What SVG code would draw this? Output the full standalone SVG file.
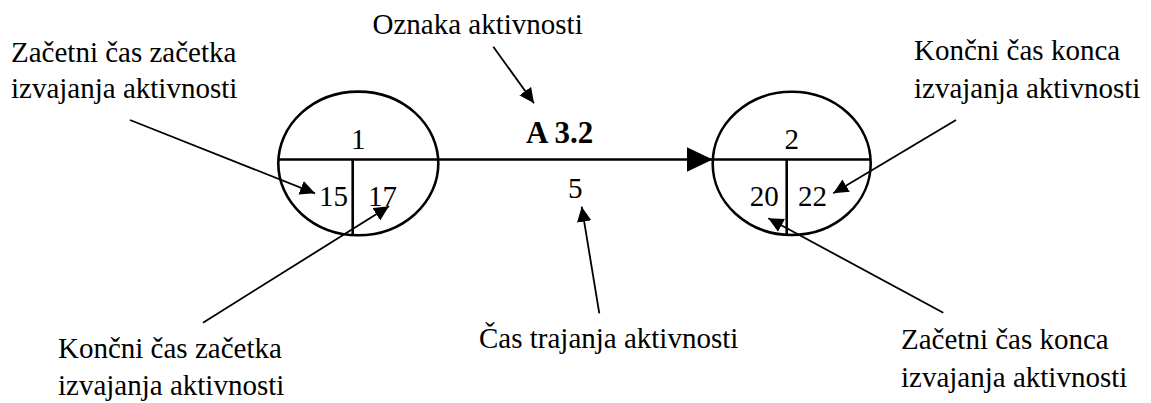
<svg xmlns="http://www.w3.org/2000/svg" width="1151" height="403" viewBox="0 0 1151 403">
  <style>
    text { font-family: "Liberation Serif", "Times New Roman", serif; font-size: 29px; fill: #000; }
    .bold { font-weight: bold; font-size: 31px; }
    .mid { text-anchor: middle; }
    .shape { fill: none; stroke: #000; stroke-width: 2.6; }
    .leader { fill: none; stroke: #000; stroke-width: 1.8; marker-end: url(#tip); }
    .main { fill: none; stroke: #000; stroke-width: 2.6; marker-end: url(#bigtip); }
  </style>
  <defs>
    <marker id="tip" markerUnits="userSpaceOnUse" markerWidth="16" markerHeight="15" refX="15" refY="7.25" orient="auto">
      <path d="M0,0 L15,7.25 L0,14.5 z" fill="#000"/>
    </marker>
    <marker id="bigtip" markerUnits="userSpaceOnUse" markerWidth="27" markerHeight="26" refX="26" refY="12.5" orient="auto">
      <path d="M0,0 L26,12.5 L0,25 z" fill="#000"/>
    </marker>
  </defs>
  <rect width="1151" height="403" fill="#fff"/>

  <!-- start event -->
  <g id="node-1">
    <ellipse class="shape" cx="358.3" cy="163.4" rx="80" ry="71.8"/>
    <line class="shape" x1="278.3" y1="159.5" x2="438.3" y2="159.5"/>
    <line class="shape" x1="352.7" y1="159.5" x2="352.7" y2="235.2"/>
    <text class="mid" x="358.3" y="149">1</text>
    <text x="319" y="205.5">15</text>
    <text x="368" y="205.5">17</text>
  </g>

  <!-- end event -->
  <g id="node-2">
    <ellipse class="shape" cx="791.7" cy="163.4" rx="79" ry="71.6"/>
    <line class="shape" x1="712.7" y1="159.5" x2="870.7" y2="159.5"/>
    <line class="shape" x1="786.7" y1="159.5" x2="786.7" y2="235"/>
    <text class="mid" x="791.7" y="149">2</text>
    <text x="749.7" y="205.5">20</text>
    <text x="798" y="205.5">22</text>
  </g>

  <!-- activity -->
  <g id="activity">
    <text class="bold" x="526" y="143.3">A 3.2</text>
    <text class="mid" x="575.3" y="198.3">5</text>
  </g>

  <!-- callout labels -->
  <g id="label-zacetni-zacetka">
    <text x="11" y="61.7">Začetni čas začetka</text>
    <text x="11" y="98.3">izvajanja aktivnosti</text>
  </g>
  <g id="label-oznaka">
    <text x="372.5" y="34">Oznaka aktivnosti</text>
  </g>
  <g id="label-koncni-konca">
    <text x="914" y="60">Končni čas konca</text>
    <text x="914" y="98.3">izvajanja aktivnosti</text>
  </g>
  <g id="label-koncni-zacetka">
    <text x="58" y="358.3">Končni čas začetka</text>
    <text x="58" y="395">izvajanja aktivnosti</text>
  </g>
  <g id="label-cas-trajanja">
    <text x="479" y="348.3">Čas trajanja aktivnosti</text>
  </g>
  <g id="label-zacetni-konca">
    <text x="901" y="349">Začetni čas konca</text>
    <text x="901" y="386.5">izvajanja aktivnosti</text>
  </g>

  <!-- connectors -->
  <g id="connectors">
    <line class="main" x1="438.3" y1="159.5" x2="712.7" y2="159.5"/>
    <line class="leader" x1="130" y1="120" x2="315" y2="193.3"/>
    <line class="leader" x1="203" y1="322.7" x2="389" y2="206.3"/>
    <line class="leader" x1="493.3" y1="46.7" x2="534" y2="103.3"/>
    <line class="leader" x1="599.3" y1="313.3" x2="581.7" y2="206.7"/>
    <line class="leader" x1="956" y1="120" x2="833.3" y2="193.3"/>
    <line class="leader" x1="943.3" y1="312.7" x2="768.3" y2="218.3"/>
  </g>
</svg>
